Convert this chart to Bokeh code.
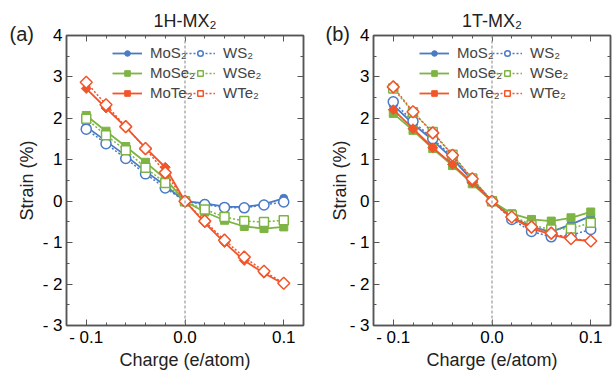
import numpy as np
from bokeh.plotting import figure
from bokeh.layouts import row
from bokeh.models import (Span, Legend, LegendItem, LinearAxis, CustomJSTickFormatter,
                          SingleIntervalTicker, Title, Range1d)
from bokeh.embed import file_html
from bokeh.resources import INLINE

charge = [-0.1, -0.08, -0.06, -0.04, -0.02, 0.0, 0.02, 0.04, 0.06, 0.08, 0.1]

# 1H-MX2
h_MoS2 = [1.80, 1.45, 1.10, 0.72, 0.38, 0.0, -0.05, -0.13, -0.14, -0.07, 0.07]
h_WS2 = [1.74, 1.39, 1.03, 0.66, 0.32, 0.0, -0.08, -0.15, -0.16, -0.09, -0.02]
h_MoSe2 = [2.07, 1.69, 1.32, 0.94, 0.54, 0.0, -0.26, -0.46, -0.61, -0.66, -0.62]
h_WSe2 = [1.99, 1.59, 1.23, 0.81, 0.44, 0.0, -0.20, -0.38, -0.48, -0.50, -0.46]
h_MoTe2 = [2.72, 2.25, 1.79, 1.29, 0.82, 0.0, -0.52, -1.00, -1.43, -1.74, -2.00]
h_WTe2 = [2.87, 2.33, 1.80, 1.27, 0.69, 0.0, -0.48, -0.94, -1.35, -1.69, -1.98]

# 1T-MX2
t_MoS2 = [2.32, 1.87, 1.47, 1.03, 0.50, 0.0, -0.38, -0.62, -0.74, -0.56, -0.36]
t_WS2 = [2.40, 1.93, 1.51, 1.07, 0.50, 0.0, -0.44, -0.73, -0.86, -0.82, -0.68]
t_MoSe2 = [2.12, 1.71, 1.27, 0.86, 0.42, 0.0, -0.30, -0.44, -0.48, -0.40, -0.26]
t_WSe2 = [2.72, 2.15, 1.67, 1.12, 0.55, 0.0, -0.34, -0.58, -0.68, -0.66, -0.52]
t_MoTe2 = [2.21, 1.75, 1.29, 0.89, 0.45, 0.0, -0.40, -0.66, -0.80, -0.92, -0.96]
t_WTe2 = [2.76, 2.16, 1.65, 1.11, 0.54, 0.0, -0.38, -0.62, -0.77, -0.90, -0.96]

names_mo = ["MoS₂", "MoSe₂", "MoTe₂"]
names_w = ["WS₂", "WSe₂", "WTe₂"]
titles = ["1H-MX₂", "1T-MX₂"]
panel_tags = ["(a)", "(b)"]

BLUE = "#4a7bc6"
GREEN = "#7db443"
RED = "#f2552a"
colors = [BLUE, GREEN, RED]
FONT = "Liberation Sans"
AXC = "#555555"
FW, FH = 237, 290

xfmt = CustomJSTickFormatter(code="""
if (Math.abs(tick) < 1e-9) return "0.0";
return tick < 0 ? "- " + Math.abs(tick).toFixed(1) : tick.toFixed(1);
""")
yfmt = CustomJSTickFormatter(code="""
var v = Math.round(tick);
return v < 0 ? "- " + Math.abs(v) : "" + v;
""")


def style_axis(ax, show_labels=True):
    ax.axis_line_color = AXC
    ax.axis_line_width = 1.5
    ax.major_tick_line_color = AXC
    ax.minor_tick_line_color = AXC
    ax.major_tick_in = 6
    ax.major_tick_out = 0
    ax.minor_tick_in = 3
    ax.minor_tick_out = 0
    ax.major_label_text_font = FONT
    ax.major_label_text_font_size = "17px"
    ax.major_label_text_color = "black"
    ax.axis_label_text_font = FONT
    ax.axis_label_text_font_size = "18px"
    ax.axis_label_text_font_style = "normal"
    ax.axis_label_text_color = "#222222"
    if not show_labels:
        ax.major_label_text_color = None
        ax.major_label_text_font_size = "0px"
        ax.major_label_standoff = 0
        ax.axis_label_standoff = 0


def make_panel(idx, data, bl, br, ylab_standoff, tag_offset):
    p = figure(frame_width=FW, frame_height=FH, output_backend="svg", toolbar_location=None,
               x_range=Range1d(-0.12, 0.12), y_range=Range1d(-3, 4),
               min_border_left=bl, min_border_right=br, min_border_top=35,
               min_border_bottom=0, title=titles[idx])
    p.title.align = "center"
    p.title.text_font = FONT
    p.title.text_font_size = "18px"
    p.title.text_font_style = "normal"
    p.title.text_color = "#222222"
    p.title.standoff = 0
    p.xgrid.visible = False
    p.ygrid.visible = False
    p.outline_line_color = AXC
    p.outline_line_width = 1.5

    p.xaxis.ticker = SingleIntervalTicker(interval=0.1, num_minor_ticks=5)
    p.yaxis.ticker = SingleIntervalTicker(interval=1, num_minor_ticks=2)
    p.xaxis.formatter = xfmt
    p.yaxis.formatter = yfmt
    p.xaxis.axis_label = "Charge (e/atom)"
    p.yaxis.axis_label = "Strain (%)"
    style_axis(p.xaxis[0])
    style_axis(p.yaxis[0])
    p.xaxis.major_label_standoff = 2
    p.yaxis.major_label_standoff = 4
    p.xaxis.axis_label_standoff = 0
    p.yaxis.axis_label_standoff = ylab_standoff

    top = LinearAxis(ticker=SingleIntervalTicker(interval=0.1, num_minor_ticks=5))
    right = LinearAxis(ticker=SingleIntervalTicker(interval=1, num_minor_ticks=2))
    style_axis(top, False)
    style_axis(right, False)
    p.add_layout(top, "above")
    p.add_layout(right, "right")

    # panel tag "(a)" / "(b)" as a left-aligned title pulled down beside the frame top
    tag = Title(text=panel_tags[idx], align="left", offset=tag_offset, standoff=-19,
                vertical_align="bottom", text_font=FONT, text_font_size="20px",
                text_font_style="normal", text_color="#222222")
    p.add_layout(tag, "above")

    p.add_layout(Span(location=0, dimension="height", line_color="#999999",
                      line_width=1.2, line_dash="3 2"))

    mo_items, w_items = [], []
    for k in range(3):
        c = colors[k]
        ymo = data[0][k]
        yw = data[1][k]
        lw = p.line(charge, yw, line_color=c, line_width=1.5, line_dash="2 2")
        lm = p.line(charge, ymo, line_color=c, line_width=1.8)
        if k == 0:
            sm = p.scatter(charge, ymo, marker="circle", size=8, fill_color=c, line_color=c)
            sw = p.scatter(charge, yw, marker="circle", size=10, fill_color="white",
                           line_color=c, line_width=1.5)
        elif k == 1:
            sm = p.scatter(charge, ymo, marker="square", size=8, fill_color=c, line_color=c)
            sw = p.scatter(charge, yw, marker="square", size=9, fill_color="white",
                           line_color=c, line_width=1.5)
        else:
            sm = p.scatter(charge, ymo, marker="square", angle=np.pi / 4, size=7,
                           fill_color=c, line_color=c)
            sw = p.scatter(charge, yw, marker="square", angle=np.pi / 4, size=8.5,
                           fill_color="white", line_color=c, line_width=1.5)
        mo_items.append(LegendItem(label=names_mo[k], renderers=[lm, sm]))
        w_items.append(LegendItem(label=names_w[k], renderers=[lw, sw]))

    for items, loc in ((mo_items, (46, 224)), (w_items, (119, 224))):
        leg = Legend(items=items, location=loc, background_fill_alpha=0,
                     border_line_color=None, label_text_font=FONT,
                     label_text_font_size="15px", glyph_width=30, glyph_height=14,
                     label_height=14, spacing=3, padding=0, margin=0,
                     label_standoff=8)
        p.add_layout(leg, "center")
    return p


p1 = make_panel(0, ((h_MoS2, h_MoSe2, h_MoTe2), (h_WS2, h_WSe2, h_WTe2)), 66, 17, 3, -57)
p2 = make_panel(1, ((t_MoS2, t_MoSe2, t_MoTe2), (t_WS2, t_WSe2, t_WTe2)), 53, 2, -3, -48)

layout = row(p1, p2)
open("out.html", "w").write(file_html(layout, INLINE))
